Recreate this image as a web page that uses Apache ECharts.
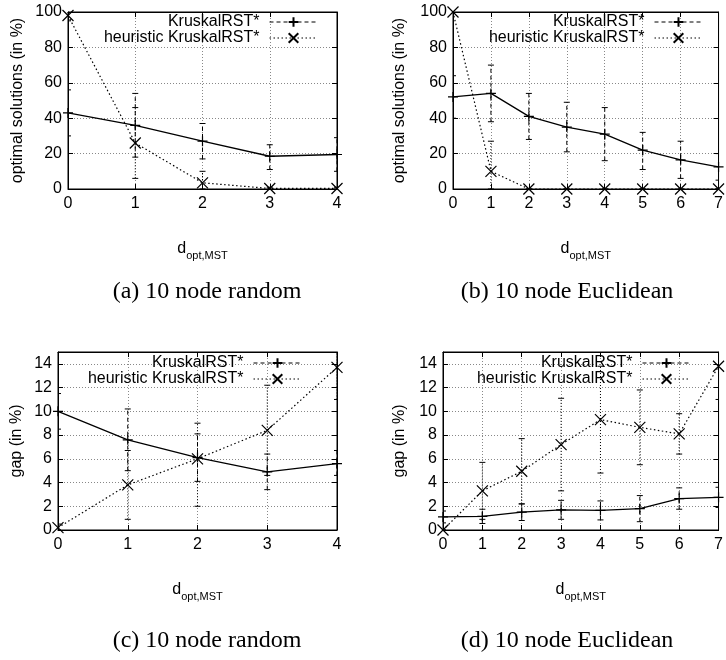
<!DOCTYPE html>
<html>
<head>
<meta charset="utf-8">
<script src="https://cdn.jsdelivr.net/npm/echarts@6/dist/echarts.min.js"></script>
<style>html,body{margin:0;padding:0;background:#fff}#c{width:726px;height:660px}</style>
</head>
<body>
<div id="c"></div>
<script>
// ---- data ----
const xRandom = [0, 1, 2, 3, 4];
const xEuclid = [0, 1, 2, 3, 4, 5, 6, 7];

// (a) optimal solutions, 10 node random
const optA_kruskal = [43, 36, 27, 18.5, 19.5];
const optA_kruskalLo = [30, 18, 17, 11, 10];
const optA_kruskalHi = [56, 54, 37, 25, 29];
const optA_heur = [98, 26, 3.5, 0.3, 0.3];
const optA_heurLo = [95, 6, 0, 0, 0];
const optA_heurHi = [100, 46, 10, 1, 1];

// (b) optimal solutions, 10 node Euclidean
const optB_kruskal = [52, 54, 41, 35, 31, 22, 16.5, 12.5];
const optB_kruskalLo = [40, 38, 28, 21, 16, 11, 6, 5];
const optB_kruskalHi = [64, 70, 54, 49, 46, 32, 27, 20];
const optB_heur = [100, 10, 0, 0, 0, 0, 0, 0];
const optB_heurLo = [100, 0, 0, 0, 0, 0, 0, 0];
const optB_heurHi = [100, 27, 0, 0, 0, 0, 0, 0];

// (c) gap, 10 node random
const gapC_kruskal = [10, 7.6, 6.1, 4.9, 5.6];
const gapC_kruskalLo = [8.5, 5.0, 4.1, 3.4, 4.6];
const gapC_kruskalHi = [11.5, 10.2, 8.1, 6.4, 6.7];
const gapC_heur = [0.2, 3.8, 6.0, 8.4, 13.7];
const gapC_heurLo = [0, 0.9, 2.0, 4.6, 11];
const gapC_heurHi = [0.5, 6.7, 9.0, 12.2, 16];

// (d) gap, 10 node Euclidean
const gapD_kruskal = [1.1, 1.15, 1.5, 1.7, 1.65, 1.8, 2.65, 2.75];
const gapD_kruskalLo = [0.6, 0.55, 0.8, 0.9, 0.85, 0.7, 1.75, 1.9];
const gapD_kruskalHi = [1.6, 1.75, 2.2, 2.5, 2.45, 2.9, 3.55, 3.6];
const gapD_heur = [0, 3.3, 4.95, 7.2, 9.3, 8.65, 8.1, 13.8];
const gapD_heurLo = [0, 0.9, 2.2, 3.3, 4.8, 5.5, 6.4, 11];
const gapD_heurHi = [0, 5.7, 7.7, 11.1, 13.8, 11.8, 9.8, 16];

const seriesNames = ['KruskalRST*', 'heuristic KruskalRST*'];
const yNameOpt = 'optimal solutions (in %)';
const yNameGap = 'gap (in %)';
const captions = ['(a) 10 node random', '(b) 10 node Euclidean', '(c) 10 node random', '(d) 10 node Euclidean'];

// ---- build ----
const SANS = 'Liberation Sans';
const PLUS = 'path://M0,5L10,5M5,0L5,10';
const CROSS = 'path://M0,0L10,10M10,0L0,10';

const panels = [
  {x: xRandom, k: optA_kruskal, kl: optA_kruskalLo, kh: optA_kruskalHi, h: optA_heur, hl: optA_heurLo, hh: optA_heurHi,
   grid: {left: 68, top: 12, width: 269, height: 177}, xmax: 4, ymax: 100, yint: 20, yName: yNameOpt, yGap: 42,
   legend: {right: 408, top: 14}, cap: [207, 292]},
  {x: xEuclid, k: optB_kruskal, kl: optB_kruskalLo, kh: optB_kruskalHi, h: optB_heur, hl: optB_heurLo, hh: optB_heurHi,
   grid: {left: 453, top: 12, width: 269, height: 177}, xmax: 7, ymax: 100, yint: 20, yName: yNameOpt, yGap: 45,
   legend: {right: 23, top: 14}, cap: [567, 292]},
  {x: xRandom, k: gapC_kruskal, kl: gapC_kruskalLo, kh: gapC_kruskalHi, h: gapC_heur, hl: gapC_heurLo, hh: gapC_heurHi,
   grid: {left: 58, top: 352, width: 279, height: 178}, xmax: 4, ymax: 15, yint: 2, yName: yNameGap, yGap: 33,
   legend: {right: 424, top: 355}, cap: [207, 641]},
  {x: xEuclid, k: gapD_kruskal, kl: gapD_kruskalLo, kh: gapD_kruskalHi, h: gapD_heur, hl: gapD_heurLo, hh: gapD_heurHi,
   grid: {left: 443, top: 352, width: 279, height: 178}, xmax: 7, ymax: 15, yint: 2, yName: yNameGap, yGap: 35,
   legend: {right: 35, top: 355}, cap: [567, 641]}
];

function errRender(dash) {
  return function (params, api) {
    const x = api.value(0), lo = api.value(1), hi = api.value(2);
    const p1 = api.coord([x, lo]), p2 = api.coord([x, hi]);
    const w = 3;
    const st = {stroke: '#000', lineWidth: 1, lineDash: dash, fill: null};
    return {type: 'group', children: [
      {type: 'line', shape: {x1: p1[0], y1: p1[1], x2: p2[0], y2: p2[1]}, style: st},
      {type: 'line', shape: {x1: p1[0] - w, y1: p1[1], x2: p1[0] + w, y2: p1[1]}, style: {stroke: '#000', lineWidth: 1}},
      {type: 'line', shape: {x1: p2[0] - w, y1: p2[1], x2: p2[0] + w, y2: p2[1]}, style: {stroke: '#000', lineWidth: 1}}
    ]};
  };
}

const option = {
  animation: false,
  backgroundColor: '#fff',
  textStyle: {fontFamily: SANS},
  grid: [], xAxis: [], yAxis: [], series: [], legend: [], graphic: []
};

panels.forEach((p, i) => {
  option.grid.push(Object.assign({show: true, borderColor: '#000', borderWidth: 1, containLabel: false}, p.grid));
  const xBase = {
    type: 'value', gridIndex: i, min: 0, max: p.xmax, interval: 1,
    axisLine: {show: true, onZero: false, lineStyle: {color: '#000', width: 1}},
    axisTick: {show: true, inside: true, length: 5, lineStyle: {color: '#000'}}
  };
  option.xAxis.push(Object.assign({}, xBase, {
    position: 'bottom',
    name: '{d|d}{s|opt,MST}', nameLocation: 'middle', nameGap: 52,
    nameTextStyle: {rich: {
      d: {fontSize: 16, fontFamily: SANS, color: '#000', verticalAlign: 'top', lineHeight: 18},
      s: {fontSize: 11, fontFamily: SANS, color: '#000', verticalAlign: 'top', lineHeight: 11, padding: [9, 0, 0, 0]}
    }},
    axisLabel: {show: true, margin: 7, fontSize: 16, color: '#000', fontFamily: SANS},
    splitLine: {show: true, lineStyle: {color: '#888', type: [1, 2], width: 1}}
  }));
  option.xAxis.push(Object.assign({}, xBase, {position: 'top', axisLabel: {show: false}, splitLine: {show: false}}));
  const yBase = {
    type: 'value', gridIndex: i, min: 0, max: p.ymax, interval: p.yint,
    axisLine: {show: true, onZero: false, lineStyle: {color: '#000', width: 1}},
    axisTick: {show: true, inside: true, length: 5, lineStyle: {color: '#000'}}
  };
  option.yAxis.push(Object.assign({}, yBase, {
    position: 'left',
    name: p.yName, nameLocation: 'middle', nameGap: p.yGap,
    nameTextStyle: {fontSize: 16, color: '#000', fontFamily: SANS},
    axisLabel: {show: true, margin: 6, fontSize: 16, color: '#000', fontFamily: SANS, showMaxLabel: p.ymax % p.yint === 0},
    splitLine: {show: true, lineStyle: {color: '#888', type: [1, 2], width: 1}}
  }));
  option.yAxis.push(Object.assign({}, yBase, {position: 'right', axisLabel: {show: false}, splitLine: {show: false}}));

  const xi = 2 * i, yi = 2 * i;
  option.series.push({
    type: 'custom', name: 'errK' + i, xAxisIndex: xi, yAxisIndex: yi, clip: true, silent: true, z: 3,
    renderItem: errRender([4, 3]),
    encode: {x: 0, y: [1, 2]},
    data: p.x.map((x, j) => [x, p.kl[j], p.kh[j]])
  });
  option.series.push({
    type: 'custom', name: 'errH' + i, xAxisIndex: xi, yAxisIndex: yi, clip: true, silent: true, z: 3,
    renderItem: errRender([1, 2]),
    encode: {x: 0, y: [1, 2]},
    data: p.x.map((x, j) => [x, p.hl[j], p.hh[j]])
  });
  option.series.push({
    type: 'line', name: seriesNames[0], xAxisIndex: xi, yAxisIndex: yi, z: 4,
    data: p.x.map((x, j) => [x, p.k[j]]),
    symbol: PLUS, symbolSize: 10, showAllSymbol: true,
    lineStyle: {color: '#000', width: 1.3, type: 'solid'},
    itemStyle: {color: '#000', borderColor: '#000', borderWidth: 1.2}
  });
  option.series.push({
    type: 'line', name: seriesNames[1], xAxisIndex: xi, yAxisIndex: yi, z: 4,
    data: p.x.map((x, j) => [x, p.h[j]]),
    symbol: CROSS, symbolSize: 11, showAllSymbol: true,
    lineStyle: {color: '#000', width: 1.2, type: [1.5, 2.5]},
    itemStyle: {color: '#000', borderColor: '#000', borderWidth: 1.2}
  });
  option.legend.push({
    orient: 'vertical', align: 'right', right: p.legend.right, top: p.legend.top,
    itemWidth: 48, itemHeight: 12, itemGap: 0, padding: 0,
    textStyle: {fontSize: 16, color: '#000', fontFamily: SANS, padding: [0, 5, 0, 0]},
    selectedMode: false,
    data: [
      {name: seriesNames[0], lineStyle: {type: [4, 3], width: 1}},
      {name: seriesNames[1], lineStyle: {type: [1.5, 2.5], width: 1}}
    ]
  });
  option.graphic.push({
    type: 'text', x: p.cap[0], y: p.cap[1],
    style: {text: captions[i], fontSize: 24, fontFamily: 'Liberation Serif', fill: '#000', textAlign: 'center', textVerticalAlign: 'middle'}
  });
});

const chart = echarts.init(document.getElementById('c'), null, {renderer: 'canvas'});
chart.setOption(option);
</script>
</body>
</html>
